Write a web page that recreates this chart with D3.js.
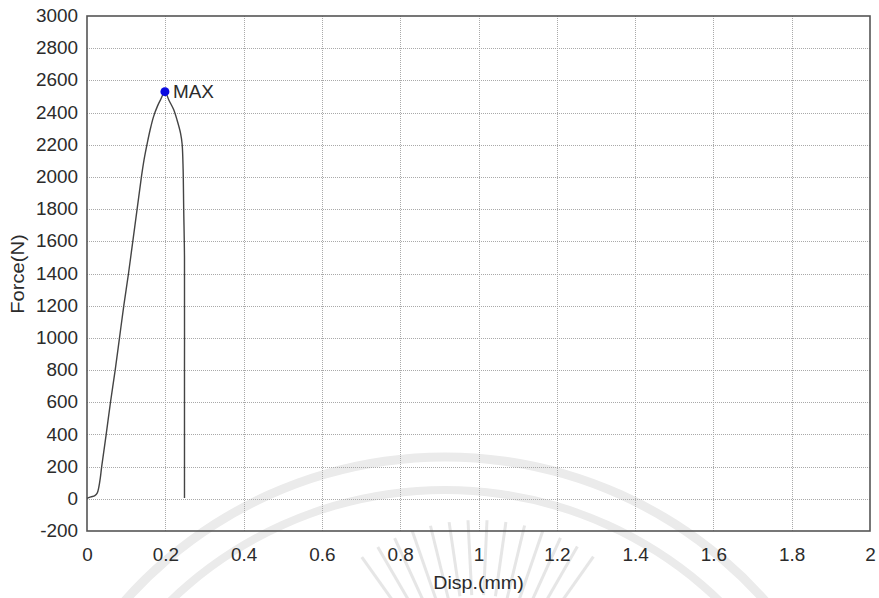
<!DOCTYPE html>
<html>
<head>
<meta charset="utf-8">
<script src="https://cdn.jsdelivr.net/npm/d3@7"></script>
<style>
  body { margin: 0; background: #fff; }
  text { font-family: "Liberation Sans", Arial, sans-serif; fill: #2b2b2b; }
</style>
</head>
<body>
<svg id="chart" width="879" height="598"></svg>
<script>
// Displacement (mm) and force (N) samples of the tensile test curve
const disp  = [0, 0.010, 0.020, 0.026, 0.030, 0.034, 0.0375, 0.049, 0.060, 0.072, 0.083, 0.094, 0.106, 0.117, 0.128, 0.139, 0.146, 0.154, 0.161, 0.170, 0.180, 0.188, 0.199, 0.209, 0.221, 0.230, 0.239, 0.243, 0.2455, 0.247, 0.249, 0.249, 0.249];
const force = [3, 12, 20, 35, 70, 130, 200, 400, 600, 800, 1000, 1200, 1400, 1600, 1800, 2000, 2110, 2210, 2290, 2375, 2440, 2480, 2530, 2478, 2420, 2354, 2271, 2203, 2050, 1800, 1500, 800, 5];

const xTicks = [0, 0.2, 0.4, 0.6, 0.8, 1, 1.2, 1.4, 1.6, 1.8, 2];
const xTickLabels = ["0", "0.2", "0.4", "0.6", "0.8", "1", "1.2", "1.4", "1.6", "1.8", "2"];
const yTicks = [-200, 0, 200, 400, 600, 800, 1000, 1200, 1400, 1600, 1800, 2000, 2200, 2400, 2600, 2800, 3000];
const yTickLabels = yTicks.map(String);

const xTitle = "Disp.(mm)";
const yTitle = "Force(N)";
const peakLabel = "MAX";

const svg = d3.select("#chart");
const plot = { left: 87, right: 870, top: 16, bottom: 531 };
const fontSize = 17.5;
const widen = 1.08;

const x = d3.scaleLinear().domain([0, 2]).range([plot.left, plot.right]);
const y = d3.scaleLinear().domain([-200, 3000]).range([plot.bottom, plot.top]);

// stretch horizontal labels slightly wider than the font's natural advance
function stretch(sel, k) {
  sel.each(function () {
    const w = this.getComputedTextLength();
    d3.select(this).attr("textLength", w * k).attr("lengthAdjust", "spacingAndGlyphs");
  });
}

// faint emblem in the background
const wm = svg.append("g").attr("fill", "none").attr("stroke", "#e6e6e6");
const emblemC = [445, 885];
[[428, 9], [395, 8]].forEach(([r, w]) => {
  wm.append("path")
    .attr("transform", `translate(${emblemC})`)
    .attr("d", d3.arc().innerRadius(r - w / 2).outerRadius(r + w / 2)
      .startAngle(-Math.PI * 0.36).endAngle(Math.PI * 0.36)())
    .attr("fill", "#ebebeb").attr("stroke", "none");
});
const rayC = [478, 720];
d3.range(-0.62, 0.63, 0.095).forEach(a => {
  const r0 = 125, r1 = 200;
  wm.append("line")
    .attr("x1", rayC[0] + r0 * Math.sin(a)).attr("y1", rayC[1] - r0 * Math.cos(a))
    .attr("x2", rayC[0] + r1 * Math.sin(a)).attr("y2", rayC[1] - r1 * Math.cos(a))
    .attr("stroke-width", 3);
});

// grid
const grid = svg.append("g").attr("stroke", "#a9a9a9").attr("stroke-width", 1)
  .attr("stroke-dasharray", "1,1");
grid.selectAll(".gx").data(xTicks.slice(1, -1)).join("line")
  .attr("x1", d => Math.round(x(d)) + 0.5).attr("x2", d => Math.round(x(d)) + 0.5)
  .attr("y1", plot.top).attr("y2", plot.bottom);
grid.selectAll(".gy").data(yTicks.slice(1, -1)).join("line")
  .attr("y1", d => Math.round(y(d)) + 0.5).attr("y2", d => Math.round(y(d)) + 0.5)
  .attr("x1", plot.left).attr("x2", plot.right);

// axes (labels only, frame drawn separately)
const xAxis = d3.axisBottom(x).tickValues(xTicks)
  .tickFormat((d, i) => xTickLabels[i]).tickSize(0).tickPadding(18);
const yAxis = d3.axisLeft(y).tickValues(yTicks)
  .tickFormat((d, i) => yTickLabels[i]).tickSize(0).tickPadding(9);

const gx = svg.append("g").attr("transform", `translate(0,${plot.bottom})`).call(xAxis);
const gy = svg.append("g").attr("transform", `translate(${plot.left},0)`).call(yAxis);
[gx, gy].forEach(g => {
  g.select(".domain").remove();
  g.selectAll("text").attr("font-size", fontSize).attr("fill", "#2b2b2b")
    .style("font-family", '"Liberation Sans", Arial, sans-serif')
    .call(stretch, widen);
});

// frame
svg.append("rect")
  .attr("x", plot.left).attr("y", plot.top)
  .attr("width", plot.right - plot.left).attr("height", plot.bottom - plot.top)
  .attr("fill", "none").attr("stroke", "#555").attr("stroke-width", 1.6);

// curve
svg.append("path")
  .datum(force)
  .attr("d", d3.line().x((d, i) => x(disp[i])).y(d => y(d)).curve(d3.curveCatmullRom.alpha(0.5)))
  .attr("fill", "none").attr("stroke", "#444").attr("stroke-width", 1.4);

// peak marker
const iMax = d3.maxIndex(force);
svg.append("circle")
  .attr("cx", x(disp[iMax])).attr("cy", y(force[iMax])).attr("r", 4.5)
  .attr("fill", "#0a0ae0");
svg.append("text")
  .attr("x", x(disp[iMax]) + 8).attr("y", y(force[iMax]))
  .attr("dy", "0.36em").attr("font-size", fontSize).text(peakLabel)
  .call(stretch, widen);

// titles
svg.append("text")
  .attr("x", (plot.left + plot.right) / 2).attr("y", 589)
  .attr("text-anchor", "middle").attr("font-size", fontSize).text(xTitle)
  .call(stretch, 1.12);
svg.append("text")
  .attr("transform", `translate(24,274) rotate(-90)`)
  .attr("text-anchor", "middle").attr("font-size", fontSize).text(yTitle)
  .call(stretch, 1.15);
</script>
</body>
</html>
